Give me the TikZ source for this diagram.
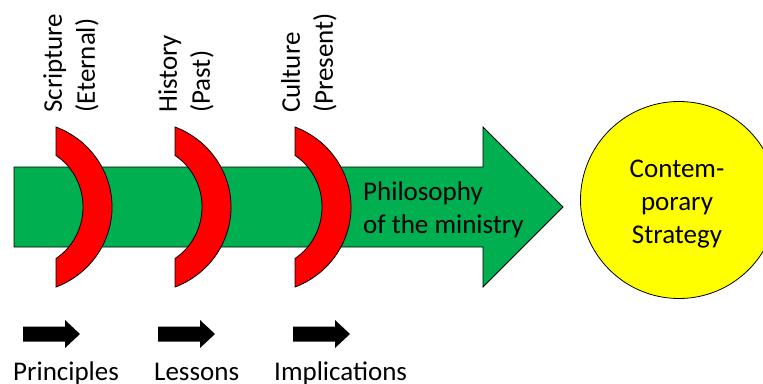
\documentclass[tikz,border=0pt]{standalone}
\usepackage{fontspec}
\setmainfont{Carlito}
\definecolor{pgreen}{HTML}{00B050}
\definecolor{pred}{HTML}{FF0000}
\definecolor{pyellow}{HTML}{FFFF00}
\begin{document}
\begin{tikzpicture}[x=1pt,y=-1pt,
  every node/.style={inner sep=0pt, font=\fontsize{27}{33}\selectfont},
  outline/.style={draw=black, line width=0.8pt, line join=miter},
  shaft/.style={outline, fill=pgreen},
  band/.style={outline, fill=pred},
  goal/.style={circle, outline, fill=pyellow, minimum size=197pt},
  vlabel/.style={rotate=90, anchor=north west, align=left},
  caption/.style={anchor=base west},
  % curved red band, origin at the middle of its straight left edge
  redarc/.pic={
    \path[band] (0,-80)
      arc[start angle=68.7, end angle=-68.7, x radius=88pt, y radius=85.9pt]
      -- (0,51.5)
      arc[start angle=-57.2, end angle=57.2, x radius=59pt, y radius=61.3pt]
      -- cycle;
  },
  % small black block arrow, origin at the middle of its tail
  pointer/.pic={
    \fill[black] (0,-7.5) -- (42,-7.5) -- (42,-14) -- (57,0)
      -- (42,14) -- (42,7.5) -- (0,7.5) -- cycle;
  }
]
\useasboundingbox (0,0) rectangle (763,383);

% main green arrow
\path[shaft] (14,167) -- (483,167) -- (483,127) -- (563,207)
  -- (483,287) -- (483,247) -- (14,247) -- cycle;

% the three lenses across the shaft
\pic at (56,207) {redarc};
\pic at (175,207) {redarc};
\pic at (295,207) {redarc};

% lens labels
\node[vlabel] (scripture) at (43,113) {Scripture\\(Eternal)};
\node[vlabel] (history) at (158,113) {History\\(Past)};
\node[vlabel] (culture) at (281,113) {Culture\\(Present)};

% text on the arrow
\node[anchor=north west, align=left] (philosophy) at (363,181.5)
  {Philosophy\\of the ministry};

% target circle
\begin{scope}
  \clip (0,0) rectangle (763,383);
  \node[goal] (strategy) at (679,200) {};
\end{scope}
\node[align=center] (strategytext) at ([shift={(-2,4)}]strategy.center)
  {Contem-\\porary\\Strategy};

% outputs of each lens
\pic at (23,334) {pointer};
\pic at (158,334) {pointer};
\pic at (293,334) {pointer};
\node[caption] (principles) at (13,380) {Principles};
\node[caption] (lessons) at (154,380) {Lessons};
\node[caption] (implications) at (274,380) {Implications};
\end{tikzpicture}
\end{document}
